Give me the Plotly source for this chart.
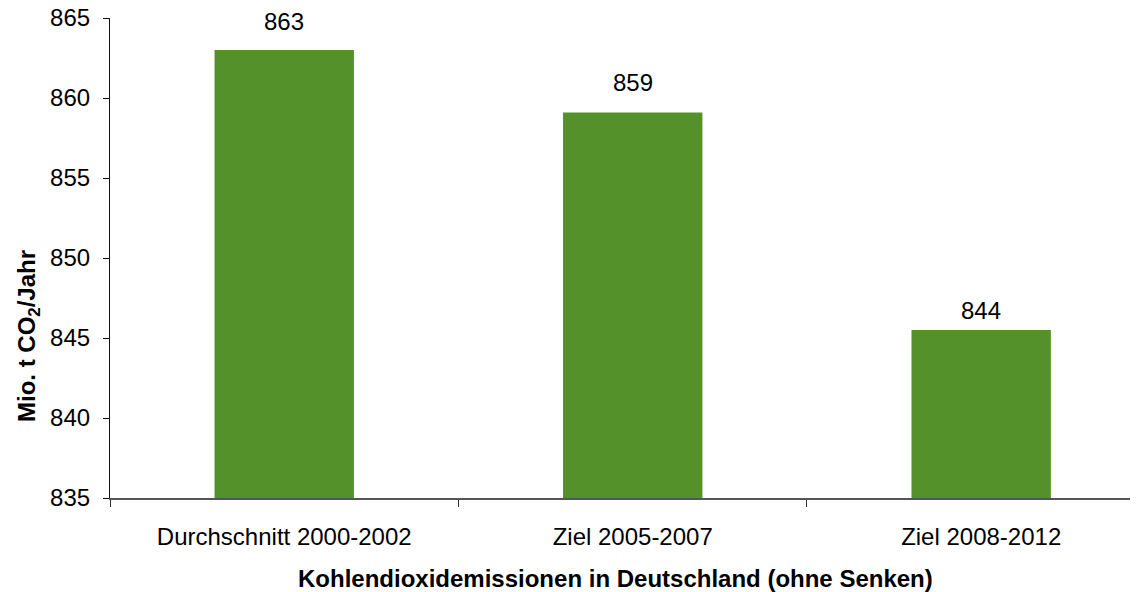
import plotly.graph_objects as go

categories = ["Durchschnitt 2000-2002", "Ziel 2005-2007", "Ziel 2008-2012"]
values = [863.0, 859.1, 845.5]
labels = ["863", "859", "844"]
label_offsets_px = [13, 14, 4]

y_ticks = [835, 840, 845, 850, 855, 860, 865]

GREEN = "#55912A"
FONT = "Liberation Sans, Arial, sans-serif"

fig = go.Figure()
fig.add_trace(go.Bar(
    x=categories, y=values, width=0.40,
    marker=dict(color=GREEN, line=dict(width=0)),
    hoverinfo="skip",
))

for c, v, t, off in zip(categories, values, labels, label_offsets_px):
    fig.add_annotation(x=c, y=v, text=t, showarrow=False, yanchor="bottom",
                       yshift=off, font=dict(family=FONT, size=24, color="#000"))

fig.add_annotation(xref="paper", yref="paper", x=-0.0798, y=0.3375,
                   text="<b>Mio. t CO<sub>2</sub>/Jahr</b>", textangle=-90,
                   showarrow=False, xanchor="center", yanchor="middle",
                   font=dict(family=FONT, size=24, color="#000"))
fig.add_annotation(xref="paper", yref="paper", x=0.492, y=-0.1667,
                   text="<b>Kohlendioxidemissionen in Deutschland (ohne Senken)</b>",
                   showarrow=False, xanchor="center", yanchor="middle",
                   font=dict(family=FONT, size=24, color="#000"))

fig.update_layout(
    width=1130, height=584,
    margin=dict(l=102, r=0, t=10, b=94, autoexpand=False),
    paper_bgcolor="white", plot_bgcolor="white",
    showlegend=False,
    font=dict(family=FONT, size=24, color="#000"),
    xaxis=dict(
        type="category", range=[-0.5, 2.45], automargin=False,
        showline=True, linecolor="#555", linewidth=1.5,
        ticks="outside", ticklen=7, tickcolor="#333", tickson="boundaries",
        showgrid=False, ticklabelstandoff=16,
        tickfont=dict(family=FONT, size=24, color="#000"),
    ),
    yaxis=dict(
        range=[835, 865], tickvals=y_ticks, automargin=False,
        showline=True, linecolor="#111", linewidth=1.2,
        ticks="outside", ticklen=6, tickcolor="#111",
        showgrid=False, zeroline=False, ticklabelstandoff=8,
        ticklabeloverflow="allow",
        tickfont=dict(family=FONT, size=24, color="#000"),
    ),
)

fig.write_html("out.html")
